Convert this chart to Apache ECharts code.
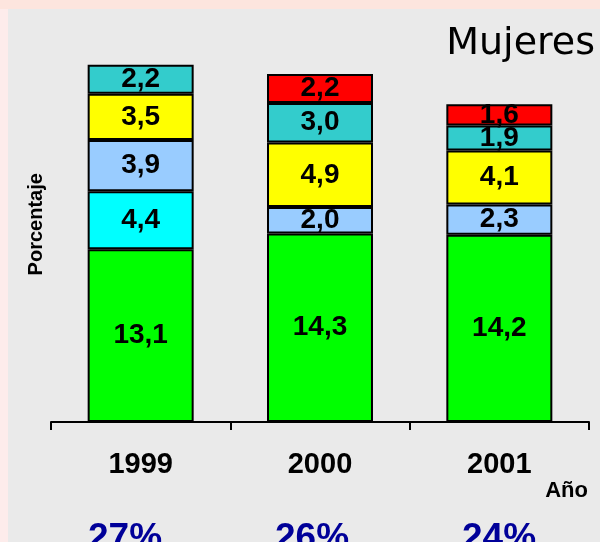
<!DOCTYPE html>
<html>
<head>
<meta charset="utf-8">
<script src="https://cdn.jsdelivr.net/npm/echarts@6/dist/echarts.min.js"></script>
<style>
  html, body { margin: 0; padding: 0; }
  #chart { width: 600px; height: 542px; }
</style>
</head>
<body>
<div id="chart"></div>
<script>
  // datos (Mujeres)
  const years = ['1999', '2000', '2001'];
  const totals = ['27%', '26%', '24%'];
  const verde = [13.1, 14.3, 14.2];
  const cian = [4.4, '-', '-'];
  const celeste = [3.9, 2.0, 2.3];
  const amarillo = [3.5, 4.9, 4.1];
  const turquesa = [2.2, 3.0, 1.9];
  const rojo = ['-', 2.2, 1.6];

  const font = '"Liberation Sans", Arial, sans-serif';

  function coma(p) {
    return p.value.toFixed(1).replace('.', ',');
  }

  function serie(name, data, color) {
    return {
      name: name,
      type: 'bar',
      stack: 'total',
      barWidth: 106,
      data: data,
      itemStyle: { color: color, borderColor: '#000', borderWidth: 2 },
      label: {
        show: true,
        position: 'inside',
        formatter: coma,
        color: '#000',
        fontSize: 28,
        fontWeight: 'bold',
        fontFamily: font
      }
    };
  }

  const chart = echarts.init(document.getElementById('chart'));
  chart.setOption({
    animation: false,
    backgroundColor: '#fde5de',
    graphic: [
      { type: 'rect', left: 0, top: 9, shape: { width: 8, height: 533 }, style: { fill: '#fdeceb' }, z: -10 },
      { type: 'rect', left: 8, top: 9, shape: { width: 592, height: 533 }, style: { fill: '#eaeaea' }, z: -10 }
    ],
    title: [
      {
        text: 'Mujeres', right: 5, top: 25, padding: 0,
        textStyle: { fontSize: 38, fontWeight: 'normal', color: '#000', fontFamily: '"DejaVu Sans", sans-serif' }
      },
      {
        text: 'Año', right: 12, top: 480, padding: 0,
        textStyle: { fontSize: 22, fontWeight: 'bold', color: '#000', fontFamily: font }
      }
    ],
    grid: [
      { left: 51, right: 11, top: 26.5, bottom: 120, outerBoundsMode: 'none' },
      { left: 31.5, right: 7.5, top: 26.5, bottom: 120, outerBoundsMode: 'none' }
    ],
    xAxis: [
      {
        type: 'category',
        data: years,
        gridIndex: 0,
        axisLine: { lineStyle: { color: '#000', width: 2 } },
        axisTick: { show: true, length: 8, lineStyle: { color: '#000', width: 2 } },
        axisLabel: { margin: 28, fontSize: 29, fontWeight: 'bold', color: '#000', fontFamily: font }
      },
      {
        type: 'category',
        data: totals,
        gridIndex: 1,
        axisLine: { show: false },
        axisTick: { show: false },
        axisLabel: { margin: 98, fontSize: 37, fontWeight: 'bold', color: '#000099', fontFamily: font }
      }
    ],
    yAxis: [
      {
        type: 'value',
        gridIndex: 0,
        min: 0,
        max: 30,
        name: 'Porcentaje',
        nameLocation: 'middle',
        nameRotate: 90,
        nameGap: 5,
        nameTextStyle: { fontSize: 20, fontWeight: 'bold', color: '#000', fontFamily: font },
        axisLine: { show: false },
        axisTick: { show: false },
        axisLabel: { show: false },
        splitLine: { show: false }
      },
      { type: 'value', gridIndex: 1, show: false, min: 0, max: 30, splitLine: { show: false } }
    ],
    series: [
      serie('verde', verde, '#00ff00'),
      serie('cian', cian, '#00ffff'),
      serie('celeste', celeste, '#99ccff'),
      serie('amarillo', amarillo, '#ffff00'),
      serie('turquesa', turquesa, '#33cccc'),
      serie('rojo', rojo, '#ff0000')
    ]
  });
</script>
</body>
</html>
